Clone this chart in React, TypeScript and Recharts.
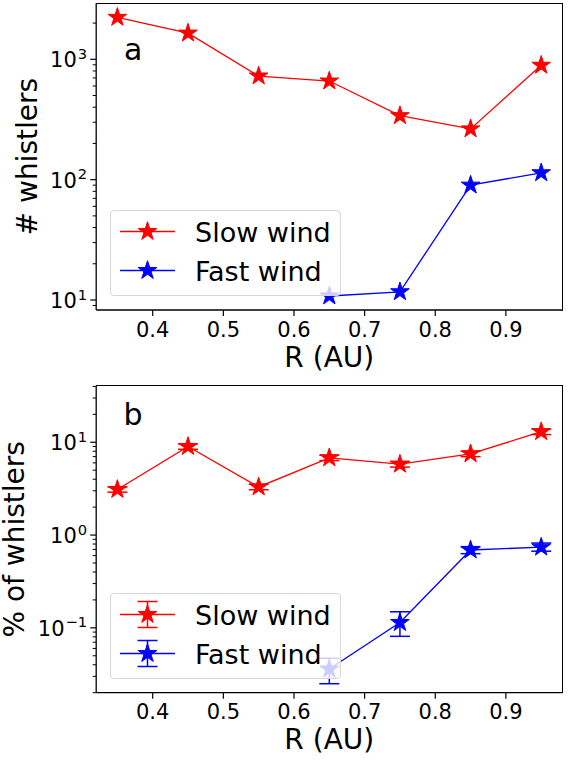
import React from "react";
import { LineChart, Line, XAxis, YAxis, ErrorBar, Legend } from "recharts";

const radius = [0.35, 0.45, 0.55, 0.65, 0.75, 0.85, 0.95];
const slowCount = [2230, 1650, 726, 660, 340, 264, 892];
const fastCount = [null, null, null, 10.8, 11.7, 90, 114];
const slowPct = [3.1, 9.0, 3.3, 6.8, 5.8, 7.5, 13.0];
const slowPctErr = [[0.2, 0.2], [0.6, 0.6], [0.22, 0.22], [0.45, 0.45], [0.4, 0.4], [0.5, 0.5], [0.9, 0.9]];
const fastPct = [null, null, null, 0.036, 0.114, 0.69, 0.74];
const fastPctErr = [null, null, null, [0.011, 0.011], [0.033, 0.035], [0.06, 0.06], [0.07, 0.08]];
const seriesNames = ["Slow wind", "Fast wind"];

const xDomain = [0.32, 0.98];
const countDomain = [8.26, 2920];
const pctDomain = [0.02, 40.4];
const xTicks = [0.4, 0.5, 0.6, 0.7, 0.8, 0.9];
const countTicks = [9, 10, 20, 30, 40, 50, 60, 70, 80, 90, 100, 200, 300, 400, 500, 600, 700, 800, 900, 1000, 2000];
const pctTicks = [
  0.02, 0.03, 0.04, 0.05, 0.06, 0.07, 0.08, 0.09, 0.1, 0.2, 0.3, 0.4, 0.5, 0.6, 0.7, 0.8, 0.9,
  1, 2, 3, 4, 5, 6, 7, 8, 9, 10, 20, 30, 40,
];

const countData = radius.map((r, i) => ({ r, slow: slowCount[i], fast: fastCount[i] }));
const pctData = radius.map((r, i) => ({
  r,
  slow: slowPct[i],
  slowErr: slowPctErr[i],
  fast: fastPct[i],
  fastErr: fastPctErr[i],
}));

const FONT = "DejaVu Sans";
const RED = "#ff0000";
const BLUE = "#0000ff";

// layout of one panel
const W = 574;
const H = 380;
const Y_W = 96.2;
const RIGHT = 11.6;
const FRAME_W = 1.3;

function starPath(cx: number, cy: number, R: number) {
  const r = R * 0.382;
  let d = "";
  for (let i = 0; i < 10; i++) {
    const a = -Math.PI / 2 + (i * Math.PI) / 5;
    const rr = i % 2 === 0 ? R : r;
    d += (i === 0 ? "M" : "L") + (cx + rr * Math.cos(a)).toFixed(2) + "," + (cy + rr * Math.sin(a)).toFixed(2);
  }
  return d + "Z";
}

const starDot = (color: string) => (props: any) => {
  const { cx, cy, index, value } = props;
  if (cx == null || cy == null || value == null || Number.isNaN(cy)) return <g key={`s-${index}`} />;
  return <path key={`s-${index}`} d={starPath(cx, cy, 9.8)} fill={color} stroke={color} strokeWidth={1} />;
};

const XTick = (props: any) => {
  const { x, y, payload } = props;
  return (
    <g>
      <line x1={x} x2={x} y1={y} y2={y + 6} stroke="#000" strokeWidth={1.2} />
      <text x={x} y={y + 26.5} textAnchor="middle" fontFamily={FONT} fontSize={21} fill="#000">
        {payload.value.toFixed(1)}
      </text>
    </g>
  );
};

const YTick = (props: any) => {
  const { x, y, payload } = props;
  const l = Math.log10(payload.value);
  const major = Math.abs(l - Math.round(l)) < 1e-6;
  if (!major) {
    return <line x1={x - 3.5} x2={x} y1={y} y2={y} stroke="#000" strokeWidth={1} />;
  }
  const e = Math.round(l);
  const exp = e < 0 ? "\u2212" + Math.abs(e) : String(e);
  return (
    <g>
      <line x1={x - 6} x2={x} y1={y} y2={y} stroke="#000" strokeWidth={1.2} />
      <text x={x - 9} y={y + 8} textAnchor="end" fontFamily={FONT} fontSize={21} fill="#000">
        10
        <tspan fontSize={14.7} dx={1} dy={-8.5}>
          {exp}
        </tspan>
      </text>
    </g>
  );
};

const xLabel = (props: any) => {
  const vb = props.viewBox || {};
  return (
    <text x={vb.x + vb.width / 2} y={vb.y + 56.7} textAnchor="middle" fontFamily={FONT} fontSize={28} fill="#000">
      R (AU)
    </text>
  );
};

const yLabel = (text: string, bx: number) => (props: any) => {
  const vb = props.viewBox || {};
  const cy = vb.y + vb.height / 2;
  return (
    <text
      x={bx}
      y={cy}
      transform={`rotate(-90, ${bx}, ${cy})`}
      textAnchor="middle"
      fontFamily={FONT}
      fontSize={28}
      fill="#000"
    >
      {text}
    </text>
  );
};

const renderLegend = (withErr: boolean) => (props: any) => {
  const items = [...(props.payload || [])].sort(
    (a: any, b: any) => seriesNames.indexOf(a.value) - seriesNames.indexOf(b.value)
  );
  return (
    <div
      style={{
        width: 231,
        height: 86,
        boxSizing: "border-box",
        border: "1px solid #d6d6d6",
        borderRadius: 4,
        background: "rgba(255,255,255,0.8)",
      }}
    >
      <svg width={229} height={84} style={{ display: "block" }}>
        {items.map((it: any, i: number) => {
          const cy = 20.5 + i * 39;
          return (
            <g key={it.value}>
              <line x1={9} x2={64} y1={cy} y2={cy} stroke={it.color} strokeWidth={1.3} />
              {withErr && (
                <g stroke={it.color} strokeWidth={1.5}>
                  <line x1={36.5} x2={36.5} y1={cy - 13} y2={cy + 13} />
                  <line x1={26.5} x2={46.5} y1={cy - 13} y2={cy - 13} />
                  <line x1={26.5} x2={46.5} y1={cy + 13} y2={cy + 13} />
                </g>
              )}
              <path d={starPath(36.5, cy, 9.8)} fill={it.color} stroke={it.color} strokeWidth={1} />
              <text x={84} y={cy + 10} fontFamily={FONT} fontSize={27} fill="#000">
                {it.value}
              </text>
            </g>
          );
        })}
      </svg>
    </div>
  );
}

const axisStroke = { stroke: "#000", strokeWidth: FRAME_W };

function Panel(props: {
  data: any[];
  top: number;
  xAxisH: number;
  yDomain: number[];
  yTicks: number[];
  yText: string;
  yTextX: number;
  letter: string;
  letterX: number;
  letterY: number;
  legendTop: number;
  withErr: boolean;
}) {
  const { data, top, xAxisH, yDomain, yTicks, yText, yTextX, letter, letterX, letterY, legendTop, withErr } = props;
  return (
    <div style={{ position: "relative", width: W, height: H }}>
      <LineChart width={W} height={H} data={data} margin={{ top, right: RIGHT, bottom: 0, left: 0 }}>
        <XAxis
          dataKey="r"
          type="number"
          domain={xDomain}
          ticks={xTicks}
          interval={0}
          allowDataOverflow
          height={xAxisH}
          tickSize={0}
          tickMargin={0}
          axisLine={axisStroke}
          tickLine={false}
          tick={<XTick />}
          label={xLabel}
        />
        <YAxis
          scale="log"
          type="number"
          domain={yDomain}
          ticks={yTicks}
          interval={0}
          allowDataOverflow
          width={Y_W}
          tickSize={0}
          tickMargin={0}
          axisLine={axisStroke}
          tickLine={false}
          tick={<YTick />}
          label={yLabel(yText, yTextX)}
        />
        <text x={letterX} y={letterY} fontFamily={FONT} fontSize={30} fill="#000">
          {letter}
        </text>
        <Line
          dataKey="slow"
          name="Slow wind"
          type="linear"
          stroke={RED}
          strokeWidth={1.3}
          dot={starDot(RED)}
          activeDot={false}
          isAnimationActive={false}
        >
          {withErr && <ErrorBar dataKey="slowErr" direction="y" width={10} stroke={RED} strokeWidth={1.5} />}
        </Line>
        <Line
          dataKey="fast"
          name="Fast wind"
          type="linear"
          stroke={BLUE}
          strokeWidth={1.3}
          dot={starDot(BLUE)}
          activeDot={false}
          isAnimationActive={false}
        >
          {withErr && <ErrorBar dataKey="fastErr" direction="y" width={10} stroke={BLUE} strokeWidth={1.5} />}
        </Line>
        <Legend
          layout="horizontal"
          verticalAlign="middle"
          align="center"
          wrapperStyle={{ left: 110, top: legendTop, width: 231, height: 86 }}
          content={renderLegend(withErr)}
        />
      </LineChart>
      {/* matplotlib box: top and right edges of the plot area, from the same layout numbers */}
      <div
        style={{
          position: "absolute",
          pointerEvents: "none",
          left: Y_W - FRAME_W / 2,
          top: top - FRAME_W / 2,
          width: W - RIGHT - Y_W + FRAME_W,
          height: H - xAxisH - top + FRAME_W,
          boxSizing: "border-box",
          borderTop: `${FRAME_W}px solid #000`,
          borderRight: `${FRAME_W}px solid #000`,
        }}
      />
    </div>
  );
}

export default function App() {
  return (
    <div style={{ position: "absolute", left: 0, top: 0, width: W, height: 2 * H, background: "#fff" }}>
      <Panel
        data={countData}
        top={3.3}
        xAxisH={70}
        yDomain={countDomain}
        yTicks={countTicks}
        yText="# whistlers"
        yTextX={37}
        letter="a"
        letterX={124}
        letterY={60}
        legendTop={210}
        withErr={false}
      />
      <Panel
        data={pctData}
        top={6}
        xAxisH={67.3}
        yDomain={pctDomain}
        yTicks={pctTicks}
        yText="% of whistlers"
        yTextX={24.5}
        letter="b"
        letterX={123.5}
        letterY={45}
        legendTop={213}
        withErr={true}
      />
    </div>
  );
}
